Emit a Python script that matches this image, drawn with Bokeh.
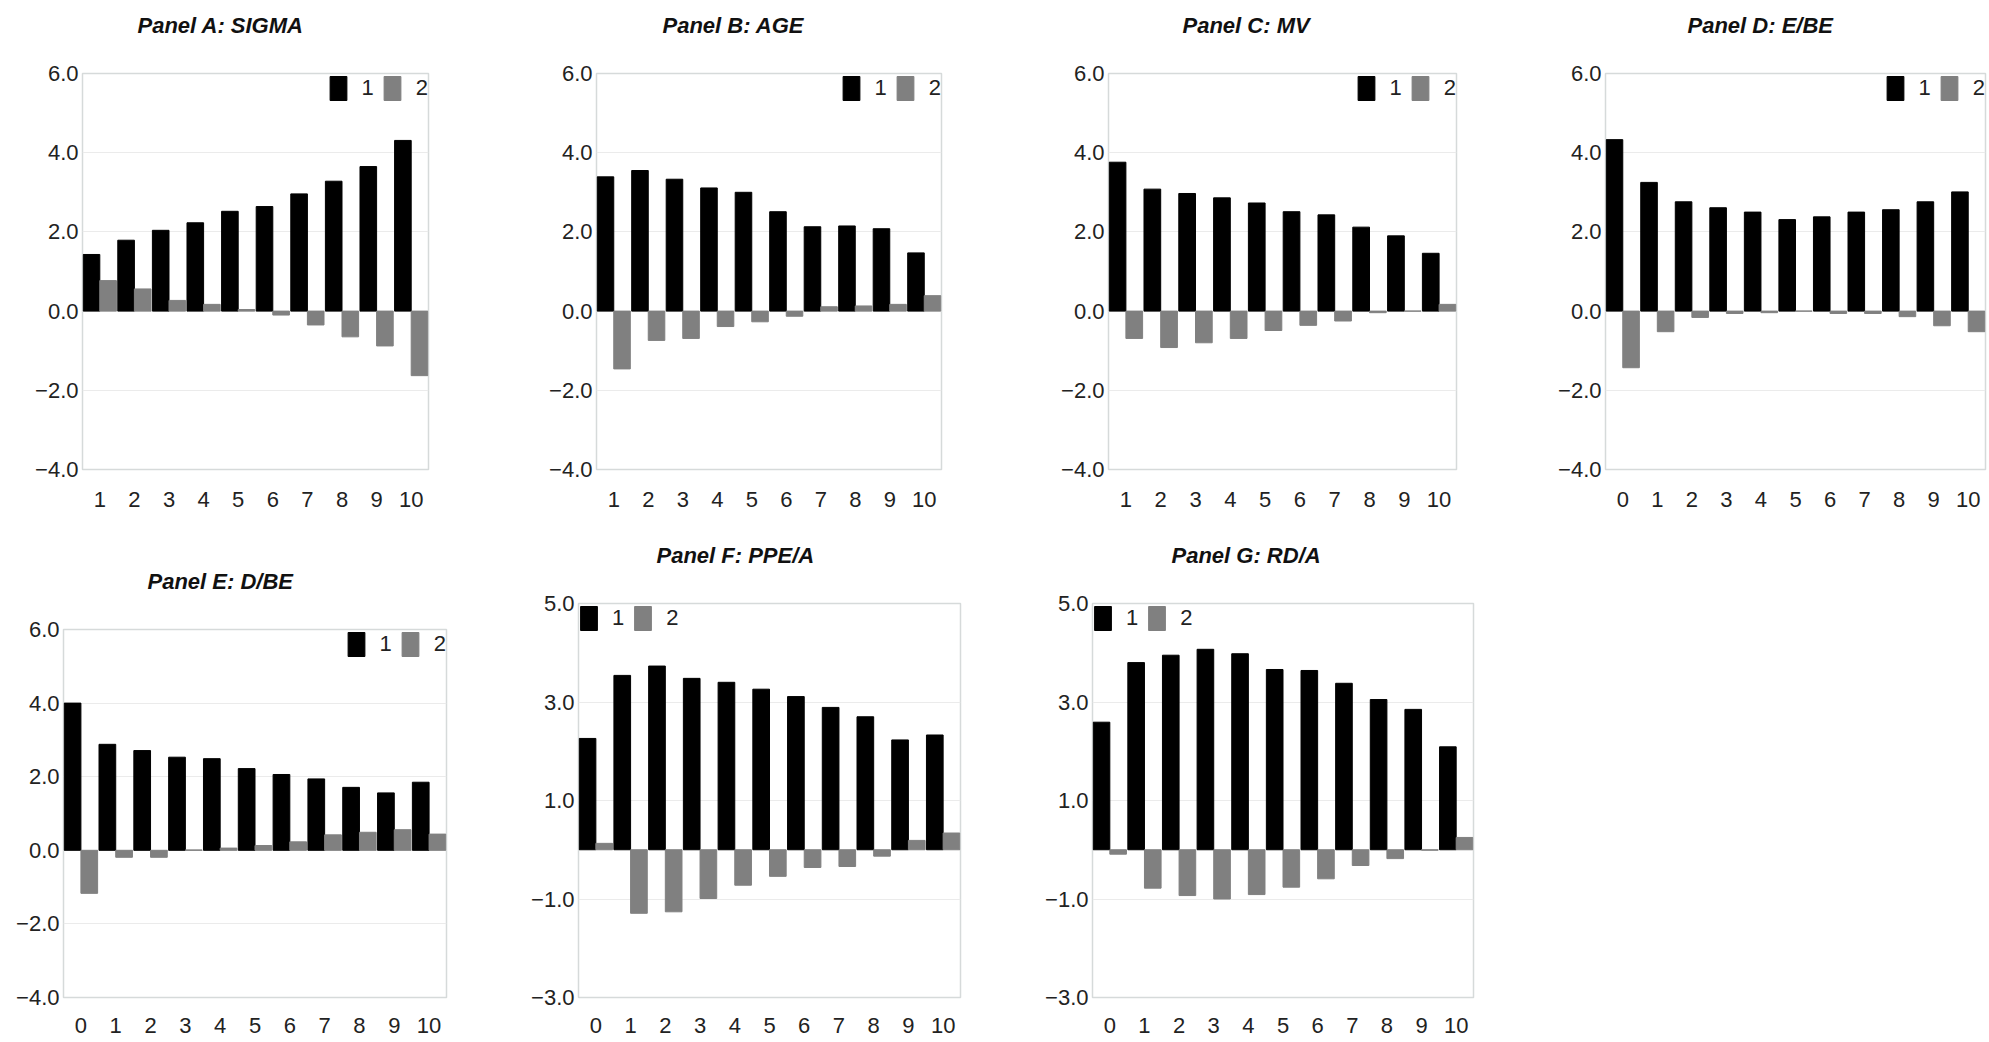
from bokeh.plotting import figure
from bokeh.layouts import column, row
from bokeh.models import (FixedTicker, Legend, LegendItem, ColumnDataSource,
                          Range1d, Title, Spacer)
from bokeh.transform import dodge
from bokeh.embed import file_html
from bokeh.resources import INLINE

# ---------------- data ----------------
titles = ["Panel A: SIGMA", "Panel B: AGE", "Panel C: MV", "Panel D: E/BE",
          "Panel E: D/BE", "Panel F: PPE/A", "Panel G: RD/A"]
series_names = ["1", "2"]

cats_1_10 = [1, 2, 3, 4, 5, 6, 7, 8, 9, 10]
cats_0_10 = [0, 1, 2, 3, 4, 5, 6, 7, 8, 9, 10]

a_s1 = [1.43, 1.79, 2.04, 2.23, 2.52, 2.64, 2.96, 3.28, 3.65, 4.31]
a_s2 = [0.77, 0.56, 0.27, 0.17, 0.04, -0.10, -0.35, -0.65, -0.88, -1.63]

b_s1 = [3.39, 3.55, 3.33, 3.11, 3.00, 2.51, 2.13, 2.15, 2.08, 1.47]
b_s2 = [-1.46, -0.74, -0.69, -0.39, -0.27, -0.13, 0.11, 0.13, 0.17, 0.39]

c_s1 = [3.76, 3.08, 2.97, 2.86, 2.73, 2.51, 2.43, 2.12, 1.90, 1.46]
c_s2 = [-0.69, -0.92, -0.80, -0.69, -0.49, -0.36, -0.25, -0.04, 0.0, 0.17]

d_s1 = [4.33, 3.25, 2.76, 2.61, 2.50, 2.31, 2.38, 2.50, 2.56, 2.76, 3.01]
d_s2 = [-1.43, -0.52, -0.16, -0.06, -0.04, 0.0, -0.06, -0.06, -0.14, -0.37, -0.52]

e_s1 = [4.00, 2.88, 2.71, 2.53, 2.49, 2.22, 2.06, 1.94, 1.71, 1.56, 1.85]
e_s2 = [-1.17, -0.19, -0.19, 0.01, 0.06, 0.13, 0.23, 0.42, 0.49, 0.56, 0.44]

f_s1 = [2.26, 3.54, 3.73, 3.48, 3.40, 3.26, 3.11, 2.89, 2.70, 2.23, 2.33]
f_s2 = [0.13, -1.29, -1.26, -0.99, -0.72, -0.54, -0.36, -0.34, -0.13, 0.19, 0.34]

g_s1 = [2.59, 3.80, 3.95, 4.07, 3.98, 3.66, 3.64, 3.38, 3.05, 2.85, 2.09]
g_s2 = [-0.09, -0.78, -0.93, -1.00, -0.91, -0.76, -0.59, -0.32, -0.18, -0.01, 0.25]

yticks_6 = [-4, -2, 0, 2, 4, 6]
ylabels_6 = ["\u22124.0", "\u22122.0", "0.0", "2.0", "4.0", "6.0"]
yticks_5 = [-3, -1, 1, 3, 5]
ylabels_5 = ["\u22123.0", "\u22121.0", "1.0", "3.0", "5.0"]

# ---------------- style ----------------
FONT = "Liberation Sans"
BLACK = "#000000"
GREY = "#808080"
BAR_W = 0.48


def panel(title, cats, s1, s2, yticks, ylabels, width, height,
          bl, br, bt, bb, legend_loc, title_offset, xstandoff):
    p = figure(width=width, height=height, output_backend="svg",
               toolbar_location=None,
               x_range=Range1d(cats[0] - 0.5, cats[-1] + 0.5),
               y_range=Range1d(yticks[0], yticks[-1]),
               min_border_left=bl, min_border_right=br,
               min_border_top=bt, min_border_bottom=bb)
    # spacer between frame and title
    p.add_layout(Title(text=" ", text_font_size="1px", standoff=31), "above")
    p.add_layout(Title(text=title, align="left", offset=title_offset,
                       standoff=4, text_font=FONT,
                       text_font_style="bold italic", text_font_size="22px",
                       text_color="#111111"), "above")

    src = ColumnDataSource(dict(x=cats, s1=s1, s2=s2))
    r1 = p.vbar(x=dodge("x", -BAR_W / 2, range=p.x_range), top="s1", bottom=0,
                width=BAR_W, source=src, fill_color=BLACK, line_color=BLACK)
    r2 = p.vbar(x=dodge("x", BAR_W / 2, range=p.x_range), top="s2", bottom=0,
                width=BAR_W, source=src, fill_color=GREY, line_color=GREY)

    p.xaxis.ticker = FixedTicker(ticks=cats)
    p.yaxis.ticker = FixedTicker(ticks=yticks)
    p.yaxis.major_label_overrides = {t: l for t, l in zip(yticks, ylabels)}
    for ax in (p.xaxis, p.yaxis):
        ax.axis_line_color = None
        ax.major_tick_line_color = None
        ax.minor_tick_line_color = None
        ax.major_tick_out = 0
        ax.major_label_text_font = FONT
        ax.major_label_text_font_size = "22px"
        ax.major_label_text_color = "#222222"
    p.xaxis.major_label_standoff = xstandoff
    p.yaxis.major_label_standoff = 4

    p.xgrid.grid_line_color = None
    p.ygrid.grid_line_color = "#ebebeb"
    p.outline_line_color = "#d6dada"
    p.outline_line_width = 1.5

    leg = Legend(items=[LegendItem(label=series_names[0], renderers=[r1]),
                        LegendItem(label=series_names[1], renderers=[r2])],
                 orientation="horizontal", location=legend_loc,
                 glyph_width=21, glyph_height=30, label_width=12,
                 label_standoff=13, spacing=8, margin=0, padding=5,
                 label_text_font=FONT, label_text_font_size="22px",
                 label_text_color="#222222",
                 border_line_color=None, background_fill_alpha=0)
    p.add_layout(leg)
    p.background_fill_color = "white"
    p.border_fill_color = "white"
    return p


pA = panel(titles[0], cats_1_10, a_s1, a_s2, yticks_6, ylabels_6,
           535, 520, 82, 107, 73, 51, "top_right", 55, 22)
pB = panel(titles[1], cats_1_10, b_s1, b_s2, yticks_6, ylabels_6,
           515, 520, 61, 109, 73, 51, "top_right", 66, 22)
pC = panel(titles[2], cats_1_10, c_s1, c_s2, yticks_6, ylabels_6,
           495, 520, 58, 89, 73, 51, "top_right", 74, 22)
pD = panel(titles[3], cats_0_10, d_s1, d_s2, yticks_6, ylabels_6,
           442, 520, 60, 2, 73, 51, "top_right", 82, 22)

pE = panel(titles[4], cats_0_10, e_s1, e_s2, yticks_6, ylabels_6,
           520, 496, 63, 74, 83, 45, "top_right", 84, 20)
pF = panel(titles[5], cats_0_10, f_s1, f_s2, yticks_5, ylabels_5,
           515, 522, 58, 75, 83, 45, "top_left", 78, 20)
pG = panel(titles[6], cats_0_10, g_s1, g_s2, yticks_5, ylabels_5,
           455, 522, 57, 17, 83, 45, "top_left", 79, 20)

layout = column(row(pA, pB, pC, pD),
                row(column(Spacer(width=520, height=26), pE), pF, pG))

open("out.html", "w").write(file_html(layout, INLINE))
